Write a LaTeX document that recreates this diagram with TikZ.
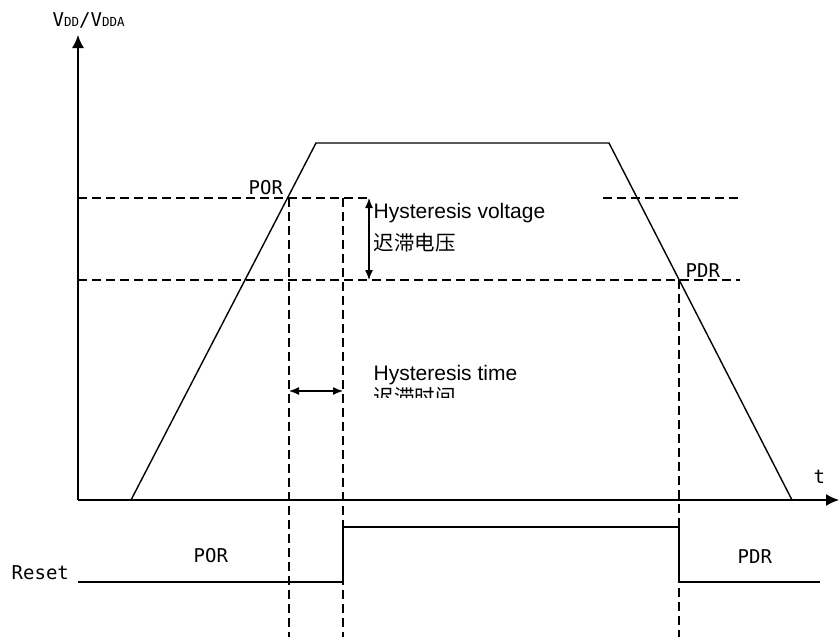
\documentclass[tikz,border=0pt]{standalone}
\usepackage{fontspec}
\setmainfont{Liberation Sans}
\newfontfamily\cjkf{Noto Sans CJK SC}
\newfontfamily\monof{DejaVu Sans Mono}
\usetikzlibrary{arrows.meta}
\begin{document}
\begin{tikzpicture}[x=1pt,y=-1pt, line width=1.4pt, line cap=butt,
  dsh/.style={line width=1.2pt, dash pattern=on 9pt off 5pt},
  axisarrow/.style={-{Latex[length=13pt,width=12pt]}},
  dimarrow/.style={line width=1.3pt,{Latex[length=10pt,width=8pt]}-{Latex[length=10pt,width=8pt]}},
  lab/.style={font=\monof\fontsize{19}{19}\selectfont, inner sep=0pt, anchor=base west},
  en/.style={font=\fontsize{21}{21}\selectfont, inner sep=0pt, anchor=base west},
  cn/.style={font=\cjkf\fontsize{20.5}{20.5}\selectfont, inner sep=0pt, anchor=base west}]
\useasboundingbox (0,0) rectangle (839,637);
% axes
\coordinate (O) at (78,500);
\coordinate (ytop) at (78,35);
\coordinate (xend) at (839,500);
\draw[axisarrow] (O) -- (ytop);
\draw[axisarrow] (O) -- (xend);
% trapezoid
\coordinate (t1) at (131,500);
\coordinate (t2) at (316,143);
\coordinate (t3) at (609,143);
\coordinate (t4) at (792,500);
\draw (t1) -- (t2) -- (t3) -- (t4);
% threshold lines
\coordinate (porL) at (78,198);
\coordinate (porM) at (370,198);
\coordinate (porN) at (603,198);
\coordinate (porR) at (740,198);
\coordinate (pdrL) at (78,280);
\coordinate (pdrR) at (740,280);
\draw[dsh] (porL) -- (porM);
\draw[dsh] (porN) -- (porR);
\draw[dsh] (pdrL) -- (pdrR);
% vertical dashed
\coordinate (v1t) at (289,198);
\coordinate (v1b) at (289,637);
\coordinate (v2t) at (343,198);
\coordinate (v2b) at (343,637);
\coordinate (v3t) at (679,280);
\coordinate (v3b) at (679,637);
\draw[dsh] (v1t) -- (v1b);
\draw[dsh] (v2t) -- (v2b);
\draw[dsh] (v3t) -- (v3b);
% hysteresis arrows
\coordinate (hvT) at (369,198);
\coordinate (hvB) at (369,280);
\draw[dimarrow] (hvT) -- (hvB);
\coordinate (htL) at (289,391);
\coordinate (htR) at (343,391);
\draw[dimarrow] (htL) -- (htR);
% reset waveform
\coordinate (r0) at (78,582);
\coordinate (r1) at (343,582);
\coordinate (r2) at (343,527);
\coordinate (r3) at (679,527);
\coordinate (r4) at (679,582);
\coordinate (r5) at (820,582);
\draw (r0) -- (r1) -- (r2) -- (r3) -- (r4) -- (r5);
% labels
\node[lab] (vlab) at (52,27) {V{\fontsize{12.5}{12.5}\selectfont DD}/V{\fontsize{12.5}{12.5}\selectfont DDA}};
\node[lab] (tlab) at (813,483) {t};
\node[lab] (por1) at (248,194) {POR};
\node[lab] (pdr1) at (685,277) {PDR};
\node[lab] (por2) at (193,562) {POR};
\node[lab] (pdr2) at (737,563) {PDR};
\node[lab] (rst) at (11,579) {Reset};
\node[en] (hv) at (373,218) {Hysteresis voltage};
\node[cn] (hvc) at (373,250) {迟滞电压};
\node[en] (ht) at (373,380) {Hysteresis time};
\begin{scope}
\clip (370,387) rectangle (480,397);
\node[cn] (htc) at (373,404) {迟滞时间};
\end{scope}
\end{tikzpicture}
\end{document}
